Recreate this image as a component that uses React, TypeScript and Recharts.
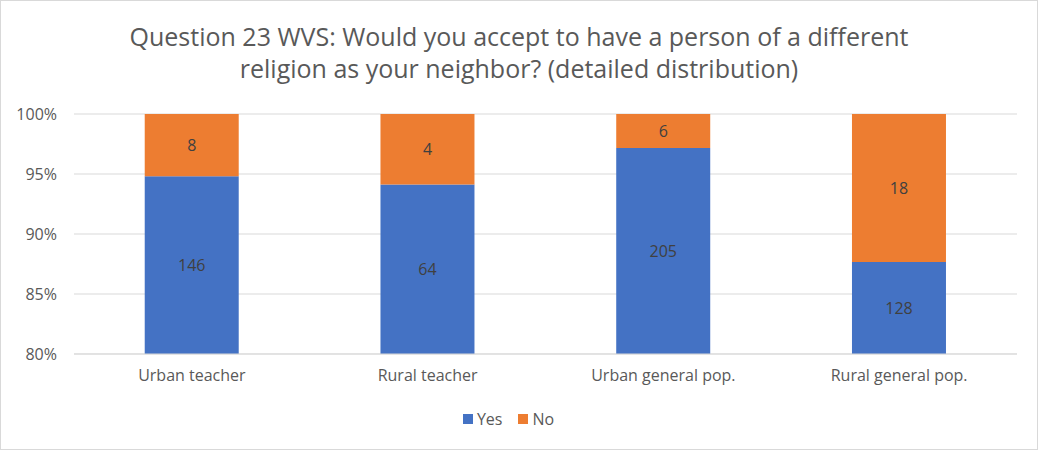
import React from "react";
import { BarChart, Bar, XAxis, YAxis, CartesianGrid, Legend, LabelList } from "recharts";

const categories = ["Urban teacher", "Rural teacher", "Urban general pop.", "Rural general pop."];
const yesCounts = [146, 64, 205, 128];
const noCounts = [8, 4, 6, 18];
const yTicks = [0.8, 0.85, 0.9, 0.95, 1];

const data = categories.map((name, i) => {
  const total = yesCounts[i] + noCounts[i];
  return {
    name,
    yes: yesCounts[i] / total,
    no: noCounts[i] / total,
    yesCount: yesCounts[i],
    noCount: noCounts[i],
  };
});

const W = 1038;
const H = 450;
const TOP = 114;
const PLOT_BOTTOM = 354;
const FONT = "'Open Sans', sans-serif";
const TEXT = "#595959";

// label centred on the visible (clipped) part of the segment
const SegLabel = (props: any) => {
  const { x, y, width, height, value } = props;
  const top = Math.max(y, TOP);
  const bottom = Math.min(y + height, PLOT_BOTTOM);
  return (
    <text
      x={x + width / 2}
      y={(top + bottom) / 2}
      textAnchor="middle"
      dominantBaseline="central"
      fontFamily={FONT}
      fontSize={16}
      fill="#404040"
    >
      {value}
    </text>
  );
};

const legendItems = [
  { label: "Yes", color: "#4472c4" },
  { label: "No", color: "#ed7d31" },
];

const LegendBox = () => (
  <div style={{ display: "flex", justifyContent: "center", gap: 16, fontFamily: FONT, fontSize: 16, color: TEXT }}>
    {legendItems.map((it) => (
      <span key={it.label} style={{ display: "flex", alignItems: "center", gap: 4 }}>
        <span style={{ display: "inline-block", width: 10, height: 10, background: it.color }} />
        {it.label}
      </span>
    ))}
  </div>
);

export default function App() {
  return (
    <div style={{ position: "fixed", left: 0, top: 0, width: W, height: H, background: "#fff", fontFamily: FONT }}>
      <div
        style={{
          position: "absolute",
          inset: 0,
          border: "1px solid #d9d9d9",
          boxSizing: "border-box",
          pointerEvents: "none",
        }}
      />
      <div
        style={{
          position: "absolute",
          top: 20,
          left: 0,
          width: W,
          textAlign: "center",
          fontSize: 25,
          lineHeight: "32px",
          color: TEXT,
        }}
      >
        Question 23 WVS: Would you accept to have a person of a different
        <br />
        religion as your neighbor? (detailed distribution)
      </div>
      <BarChart
        width={W}
        height={H}
        data={data}
        margin={{ top: TOP, right: 21, left: 0, bottom: 44 }}
        barCategoryGap="30%"
      >
        <CartesianGrid vertical={false} stroke="#d9d9d9" />
        <XAxis
          dataKey="name"
          axisLine={{ stroke: "#d9d9d9" }}
          tickLine={false}
          tickMargin={10}
          height={30}
          tick={{ fill: TEXT, fontSize: 16, fontFamily: FONT }}
        />
        <YAxis
          type="number"
          domain={[0.8, 1]}
          ticks={yTicks}
          allowDataOverflow
          width={74}
          axisLine={false}
          tickLine={false}
          tickMargin={11}
          tickFormatter={(v: number) => `${Math.round(v * 100)}%`}
          tick={{ fill: TEXT, fontSize: 16, fontFamily: FONT }}
        />
        <Legend verticalAlign="bottom" content={LegendBox} wrapperStyle={{ top: 408 }} />
        <Bar dataKey="yes" name="Yes" stackId="a" fill="#4472c4" isAnimationActive={false}>
          <LabelList dataKey="yesCount" content={SegLabel} />
        </Bar>
        <Bar dataKey="no" name="No" stackId="a" fill="#ed7d31" isAnimationActive={false}>
          <LabelList dataKey="noCount" content={SegLabel} />
        </Bar>
      </BarChart>
    </div>
  );
}
